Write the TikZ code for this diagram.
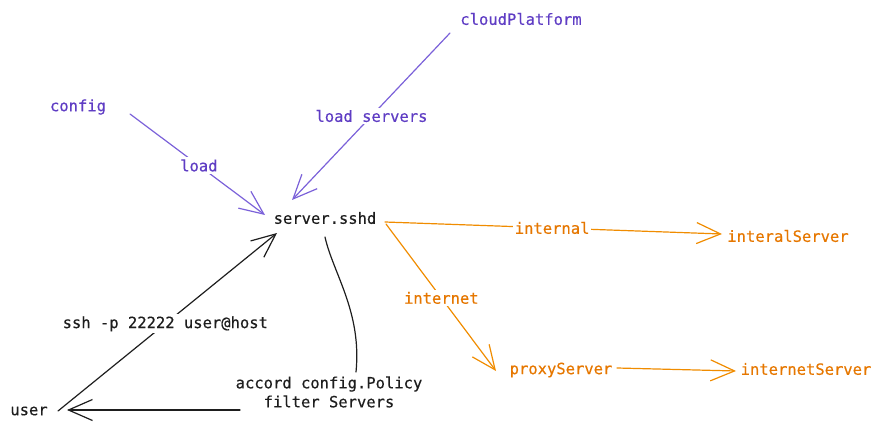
\documentclass[tikz,border=0pt]{standalone}
\usepackage{fontspec}
\setmonofont{DejaVu Sans Mono}[FakeBold=0.4]
\usetikzlibrary{arrows.meta,calc}
\definecolor{vio}{HTML}{5F3DC4}
\definecolor{vioL}{HTML}{7B61D9}
\definecolor{org}{HTML}{E67700}
\definecolor{orgL}{HTML}{F08C00}
\definecolor{ink}{HTML}{1E1E1E}
\begin{document}
\begin{tikzpicture}[x=1pt,y=-1pt,
  lbl/.style={font=\ttfamily\fontsize{15.5}{19}\selectfont, inner sep=0pt},
  onl/.style={lbl, fill=white, inner sep=2pt},
  conn/.style={line width=1.2pt, line cap=round, line join=round},
  vbarb/.style={conn, -{Straight Barb[length=24pt,width=21pt,line width=1.2pt]}}]
\useasboundingbox (0,0) rectangle (882,430);

\node[lbl,text=vio] (cloud) at (521,19) {cloudPlatform};
\node[lbl,text=vio] (cfg) at (78,107) {config};
\node[lbl,text=ink] (sshd) at (325,218) {server.sshd};
\node[lbl,text=org] (intS) at (788,236) {interalServer};
\node[lbl,text=org] (proxy) at (561,370) {proxyServer};
\node[lbl,text=org] (netS) at (806,369) {internetServer};
\node[lbl,text=ink] (user) at (29,411) {user};
\node[lbl,text=ink,align=center] (accord) at (329,392) {accord config.Policy\\filter Servers};

\draw[vbarb,vioL] ($(cfg)+(52,7)$) -- node[onl,text=vio,pos=0.51]{load} ($(sshd)+(-60,-3)$);
\draw[vbarb,vioL] ($(cloud)+(-71,14)$) -- node[onl,text=vio,pos=0.497]{load servers} ($(sshd)+(-33,-18)$);
\draw[vbarb,ink] ($(user)+(29,0)$) -- node[onl,text=ink,pos=0.49]{ssh -p 22222 user@host} ($(sshd)+(-48,15)$);
\draw[vbarb,ink] ($(accord)+(-89,18)$) -- ($(user)+(38,-1)$);
\draw[conn,ink] ($(sshd)+(0,19)$) .. controls ($(sshd)+(8,55)$) and ($(accord)+(33,-80)$) .. ($(accord)+(27,-20)$);
\draw[vbarb,orgL] ($(sshd)+(60,4)$) -- node[onl,text=org,pos=0.496]{internal} ($(intS)+(-66,-2)$);
\draw[vbarb,orgL] ($(sshd)+(61,6)$) -- node[onl,text=org,pos=0.503]{internet} ($(proxy)+(-65,1)$);
\draw[vbarb,orgL] ($(proxy)+(56,-2)$) -- ($(netS)+(-70,2)$);
\end{tikzpicture}
\end{document}
